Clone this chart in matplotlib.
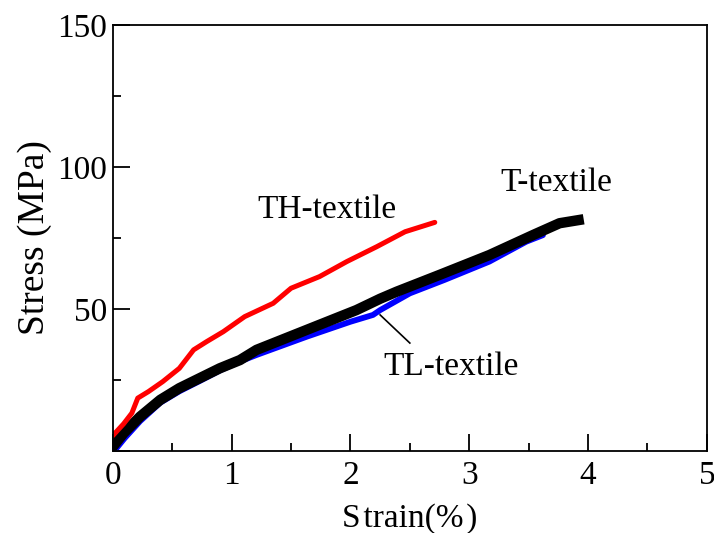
import matplotlib
matplotlib.use("Agg")
import matplotlib.pyplot as plt
from matplotlib.ticker import MultipleLocator

plt.rcParams["font.family"] = ["Liberation Serif", "DejaVu Serif"]

# TH-textile (red)
th_strain = [0.0, 0.09, 0.16, 0.21, 0.30, 0.42, 0.56, 0.68, 0.79, 0.93,
             1.11, 1.35, 1.50, 1.74, 1.97, 2.22, 2.46, 2.71]
th_stress = [5.4, 9.5, 13.3, 18.6, 20.9, 24.4, 29.1, 35.6, 38.5, 42.0,
             47.3, 52.0, 57.3, 61.4, 66.7, 71.9, 77.2, 80.5]

# T-textile (black)
t_strain = [0.0, 0.09, 0.23, 0.40, 0.56, 0.73, 0.90, 1.07, 1.21, 1.63,
            2.05, 2.25, 2.39, 2.75, 3.17, 3.54, 3.76, 3.92]
t_stress = [1.5, 6.2, 12.1, 18.0, 22.1, 25.6, 29.1, 32.0, 35.6, 42.6,
            49.6, 53.6, 56.1, 62.0, 69.0, 76.1, 80.2, 81.3]

# TL-textile (blue)
tl_strain = [0.02, 0.1, 0.23, 0.40, 0.56, 0.73, 0.90, 1.07, 1.21, 1.63,
             2.00, 2.19, 2.25, 2.50, 2.79, 3.17, 3.48, 3.62]
tl_stress = [0.4, 4.5, 10.5, 17.0, 21.0, 24.6, 28.3, 31.5, 33.8, 40.2,
             45.5, 47.9, 49.6, 55.5, 60.2, 66.7, 73.7, 76.0]

fig = plt.figure(figsize=(7.14, 5.33), dpi=100)
ax = fig.add_axes([0.158, 0.154, 0.832, 0.799])

ax.plot(tl_strain, tl_stress, color="#0000ff", lw=4.2, solid_capstyle="round")
ax.plot(t_strain, t_stress, color="black", lw=7.5)
ax.plot(th_strain, th_stress, color="#ff0000", lw=3.6, solid_capstyle="round")

ax.set_xlim(0, 5)
ax.set_ylim(0, 150)
ax.xaxis.set_major_locator(MultipleLocator(1))
ax.xaxis.set_minor_locator(MultipleLocator(0.5))
ax.set_yticks([0, 50, 100, 150])
ax.set_yticklabels(["", "50", "100", "150"])
ax.yaxis.set_minor_locator(MultipleLocator(25))
ax.tick_params(which="both", direction="in", top=False, right=False,
               labelsize=24, width=1.3)
ax.tick_params(which="major", length=12)
ax.tick_params(axis="y", which="major", pad=4)
ax.tick_params(axis="x", which="major", pad=7)
ax.tick_params(which="minor", length=6)
for s in ax.spines.values():
    s.set_linewidth(1.3)

ax.set_xlabel("S\u200atrain(%\u200a)", fontsize=24, labelpad=9)
ax.set_ylabel("Stress (MPa)", fontsize=27, labelpad=4)

ax.text(1.80, 84.9, "TH-textile", fontsize=24, ha="center", va="center")
ax.text(3.73, 94.4, "T-textile", fontsize=24, ha="center", va="center")
ax.text(2.85, 29.6, "TL-textile", fontsize=24, ha="center", va="center")
ax.plot([2.25, 2.50], [47.9, 38.0], color="black", lw=1.2)

fig.savefig("out.png", dpi=100)
